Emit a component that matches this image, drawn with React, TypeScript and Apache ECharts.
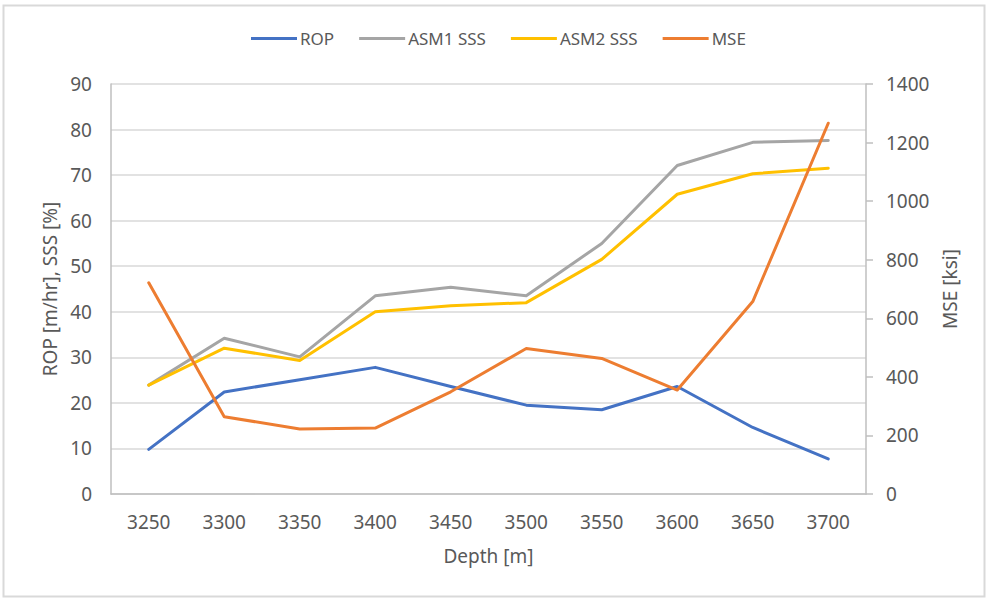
import React, { useEffect, useRef } from "react";
import * as echarts from "echarts";

const depths = ["3250", "3300", "3350", "3400", "3450", "3500", "3550", "3600", "3650", "3700"];
const rop = [9.8, 22.4, 25.1, 27.8, 23.6, 19.5, 18.5, 23.6, 14.6, 7.7];
const asm1 = [23.9, 34.2, 30.1, 43.5, 45.4, 43.5, 55.0, 72.1, 77.2, 77.6];
const asm2 = [23.9, 32.0, 29.3, 40.0, 41.3, 42.0, 51.5, 65.8, 70.3, 71.5];
const mse = [721, 264, 222, 225, 349, 497, 463, 355, 657, 1266];

const FONT = "Noto Sans";
const TXT = "#595959";
const FS = 19;

export default function App() {
  const ref = useRef<HTMLDivElement>(null);
  useEffect(() => {
    if (!ref.current) return;
    const chart = echarts.init(ref.current, undefined, { renderer: "svg" });
    const line = (name: string, data: number[], color: string, yAxisIndex = 0) => ({
      name,
      type: "line",
      data,
      yAxisIndex,
      symbol: "none",
      lineStyle: { color, width: 3, cap: "round", join: "round" },
      itemStyle: { color },
    });
    chart.setOption({
      animation: false,
      backgroundColor: "#ffffff",
      textStyle: { fontFamily: FONT, color: TXT },
      graphic: [
        {
          type: "rect",
          shape: { x: 3.5, y: 5.5, width: 981, height: 591 },
          style: { fill: "none", stroke: "#d9d9d9", lineWidth: 2 },
          silent: true,
        },
      ],
      legend: {
        left: 246,
        top: 25,
        icon: "rect",
        itemWidth: 46,
        itemHeight: 3,
        itemGap: 25,
        textStyle: { fontFamily: FONT, fontSize: 17, color: TXT, padding: [0, 0, 0, -2] },
        data: ["ROP", "ASM1 SSS", "ASM2 SSS", "MSE"],
      },
      grid: { left: 111, right: 122, top: 84, bottom: 105, containLabel: false },
      xAxis: {
        type: "category",
        data: depths,
        boundaryGap: true,
        name: "Depth [m]",
        nameLocation: "middle",
        nameGap: 52,
        nameTextStyle: { fontFamily: FONT, fontSize: FS, color: TXT },
        axisLine: { show: true, lineStyle: { color: "#bfbfbf", width: 1.5 } },
        axisTick: { show: false },
        axisLabel: { fontFamily: FONT, fontSize: FS, color: TXT, margin: 18 },
        splitLine: { show: false },
      },
      yAxis: [
        {
          type: "value",
          min: 0,
          max: 90,
          interval: 10,
          name: "ROP [m/hr], SSS [%]",
          nameLocation: "middle",
          nameGap: 49,
          nameTextStyle: { fontFamily: FONT, fontSize: FS, color: TXT },
          axisLine: { show: true, lineStyle: { color: "#bfbfbf", width: 1.5 } },
          axisTick: { show: false },
          axisLabel: { fontFamily: FONT, fontSize: FS, color: TXT, margin: 19 },
          splitLine: { show: true, lineStyle: { color: "#d9d9d9", width: 1.5 } },
        },
        {
          type: "value",
          min: 0,
          max: 1400,
          interval: 200,
          position: "right",
          name: "MSE [ksi]",
          nameLocation: "middle",
          nameGap: 73,
          nameRotate: 90,
          nameTextStyle: { fontFamily: FONT, fontSize: FS, color: TXT },
          axisLine: { show: true, lineStyle: { color: "#bfbfbf", width: 1.5 } },
          axisTick: { show: true, inside: false, length: 7, lineStyle: { color: "#bfbfbf", width: 1.5 } },
          axisLabel: {
            fontFamily: FONT,
            fontSize: FS,
            color: TXT,
            margin: 20,
            formatter: (v: number) => String(v),
          },
          splitLine: { show: false },
        },
      ],
      series: [
        line("ROP", rop, "#4472C4"),
        line("ASM1 SSS", asm1, "#A5A5A5"),
        line("ASM2 SSS", asm2, "#FFC000"),
        line("MSE", mse, "#ED7D31", 1),
      ],
    });
    return () => chart.dispose();
  }, []);
  return (
    <div
      ref={ref}
      style={{ position: "fixed", left: 0, top: 0, width: 988, height: 599, background: "#fff" }}
    />
  );
}
